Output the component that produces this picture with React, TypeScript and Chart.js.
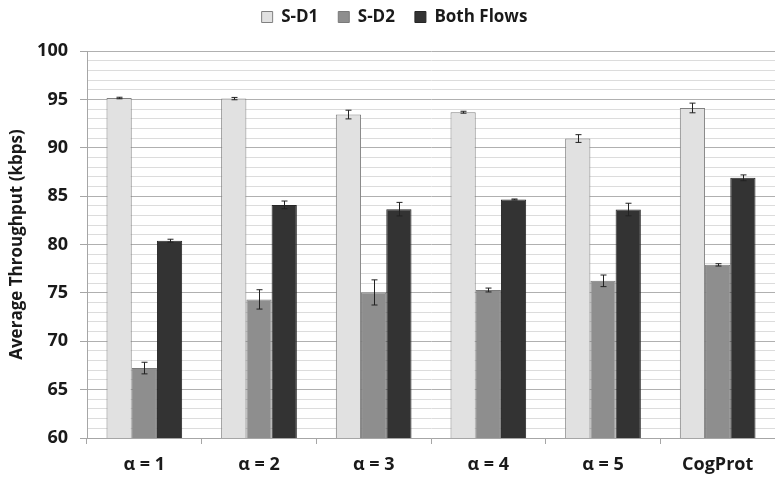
import React, { useEffect, useRef } from "react";
import { Chart, registerables } from "chart.js";

Chart.register(...registerables);

const categories = ["α = 1", "α = 2", "α = 3", "α = 4", "α = 5", "CogProt"];
const sd1 = [95.15, 95.09, 93.44, 93.68, 90.96, 94.12];
const sd1Err = [0.08, 0.12, 0.45, 0.1, 0.4, 0.5];
const sd2 = [67.23, 74.33, 75.05, 75.3, 76.25, 77.9];
const sd2Err = [0.6, 1.0, 1.3, 0.2, 0.6, 0.12];
const both = [80.4, 84.1, 83.66, 84.66, 83.62, 86.9];
const bothErr = [0.15, 0.4, 0.7, 0.05, 0.65, 0.3];
const seriesNames = ["S-D1", "S-D2", "Both Flows"];
const yTicks = { min: 60, max: 100, step: 1, major: 5 };

const errors = [sd1Err, sd2Err, bothErr];

const errorBarPlugin = {
  id: "errorBars",
  afterDatasetsDraw(chart: any) {
    const ctx = chart.ctx;
    const yScale = chart.scales.y;
    ctx.save();
    ctx.strokeStyle = "#222";
    ctx.lineWidth = 1;
    chart.data.datasets.forEach((ds: any, di: number) => {
      const meta = chart.getDatasetMeta(di);
      meta.data.forEach((bar: any, i: number) => {
        const v = ds.data[i];
        const e = errors[di][i];
        const x = Math.round(bar.x) + 0.5;
        const yTop = yScale.getPixelForValue(v + e);
        const yBot = yScale.getPixelForValue(v - e);
        ctx.beginPath();
        ctx.moveTo(x, yTop);
        ctx.lineTo(x, yBot);
        ctx.moveTo(x - 3, yTop);
        ctx.lineTo(x + 3, yTop);
        ctx.moveTo(x - 3, yBot);
        ctx.lineTo(x + 3, yBot);
        ctx.stroke();
      });
    });
    ctx.restore();
  },
};

export default function App() {
  const ref = useRef<HTMLCanvasElement>(null);
  useEffect(() => {
    document.body.style.margin = "0";
    const font = "'Open Sans', 'DejaVu Sans', sans-serif";
    const chart = new Chart(ref.current!, {
      type: "bar",
      data: {
        labels: categories,
        datasets: [
          { label: seriesNames[0], data: sd1, backgroundColor: "#e1e1e1", borderColor: "#808080", borderWidth: 1 },
          { label: seriesNames[1], data: sd2, backgroundColor: "#8e8e8e", borderColor: "#7a7a7a", borderWidth: 1 },
          { label: seriesNames[2], data: both, backgroundColor: "#333333", borderColor: "#262626", borderWidth: 1 },
        ],
      },
      options: {
        animation: false,
        responsive: true,
        maintainAspectRatio: false,
        layout: { padding: { top: -11.5, right: 0, bottom: 0, left: 14 } },
        datasets: { bar: { categoryPercentage: 0.66, barPercentage: 1.0 } },
        plugins: {
          legend: {
            position: "top",
            labels: {
              boxWidth: 11,
              boxHeight: 11,
              padding: 20,
              color: "#1a1a1a",
              font: { family: font, size: 17, weight: "bold" },
            },
          },
          subtitle: {
            display: true,
            text: "",
            position: "top",
            weight: 500,
            padding: 0,
            font: { size: 13 },
          } as any,
          tooltip: { enabled: false },
        },
        scales: {
          x: {
            grid: { offset: true, drawOnChartArea: false, tickLength: 6, color: "#a6a6a6" },
            border: { color: "#a6a6a6" },
            ticks: { color: "#1a1a1a", padding: 10, font: { family: font, size: 18, weight: "bold" } },
            afterFit(scale: any) {
              scale.height = 42;
            },
          },
          y: {
            min: yTicks.min,
            max: yTicks.max,
            grid: {
              color: (c: any) => (c.tick && c.tick.value % yTicks.major === 0 ? "#b0b0b0" : "#dcdcdc"),
              tickColor: (c: any) => (c.tick && c.tick.value % yTicks.major === 0 ? "#a6a6a6" : "rgba(0,0,0,0)"),
              tickLength: 7,
            },
            border: { color: "#a6a6a6" },
            ticks: {
              stepSize: yTicks.step,
              autoSkip: false,
              padding: 12,
              color: "#1a1a1a",
              font: { family: font, size: 18, weight: "bold" },
              callback: (v: any) => (Number(v) % yTicks.major === 0 ? String(v) : ""),
            },
            title: {
              display: true,
              text: "Average Throughput (kbps)",
              color: "#1a1a1a",
              font: { family: font, size: 17, weight: "bold" },
              padding: { top: -7, bottom: 0 },
            },
            afterFit(scale: any) {
              scale.width = 73;
            },
          },
        },
      },
      plugins: [errorBarPlugin],
    });
    return () => chart.destroy();
  }, []);
  return (
    <div style={{ width: 775, height: 480, position: "relative" }}>
      <canvas ref={ref} />
    </div>
  );
}
